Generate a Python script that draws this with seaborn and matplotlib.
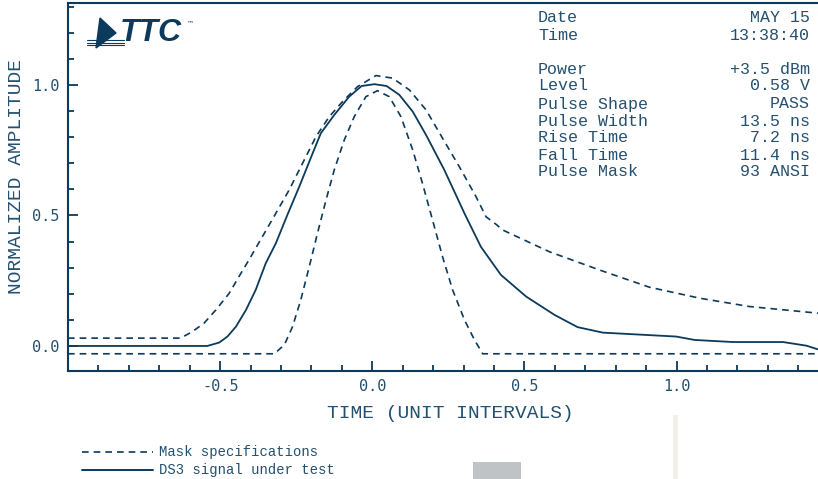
import pandas as pd
import matplotlib.pyplot as plt
import matplotlib.patches as mpatches
from matplotlib.lines import Line2D
from matplotlib.ticker import MultipleLocator
import seaborn as sns

# DS3 pulse: signal and ANSI mask
signal_t = [-1.0, -0.542, -0.503, -0.476, -0.448, -0.415, -0.383, -0.35, -0.317, -0.279,
            -0.240, -0.196, -0.169, -0.125, -0.076, -0.035, 0.007, 0.047, 0.089, 0.133,
            0.177, 0.237, 0.303, 0.357, 0.423, 0.506, 0.599, 0.675, 0.758, 0.999,
            1.059, 1.185, 1.35, 1.427, 1.47]
signal_y = [0.0, 0.0, 0.013, 0.036, 0.074, 0.138, 0.215, 0.317, 0.393, 0.502,
            0.610, 0.738, 0.815, 0.885, 0.955, 0.996, 1.003, 0.996, 0.962, 0.898,
            0.808, 0.674, 0.508, 0.380, 0.272, 0.189, 0.119, 0.072, 0.051, 0.036,
            0.023, 0.015, 0.015, 0.001, -0.015]

upper_t = [-1.0, -0.63, -0.591, -0.553, -0.514, -0.470, -0.438, -0.405, -0.361, -0.317,
           -0.273, -0.229, -0.185, -0.141, -0.098, -0.048, 0.012, 0.067, 0.122, 0.177,
           0.231, 0.286, 0.341, 0.374, 0.407, 0.429, 0.582, 0.747, 0.911, 1.076,
           1.24, 1.47]
upper_y = [0.03, 0.03, 0.055, 0.087, 0.138, 0.202, 0.266, 0.330, 0.419, 0.508,
           0.598, 0.700, 0.802, 0.879, 0.936, 0.994, 1.036, 1.026, 0.981, 0.904,
           0.796, 0.687, 0.572, 0.495, 0.466, 0.444, 0.361, 0.291, 0.225, 0.183,
           0.151, 0.125]

lower_t = [-1.0, -0.322, -0.289, -0.262, -0.235, -0.207, -0.180, -0.152, -0.125, -0.092,
           -0.059, -0.021, 0.017, 0.056, 0.094, 0.133, 0.165, 0.198, 0.231, 0.264,
           0.303, 0.336, 0.363, 1.47]
lower_y = [-0.03, -0.03, 0.004, 0.074, 0.176, 0.304, 0.432, 0.559, 0.674, 0.789,
           0.879, 0.955, 0.978, 0.955, 0.879, 0.751, 0.623, 0.483, 0.342, 0.215,
           0.100, 0.023, -0.03, -0.03]

x_ticks = [-0.5, 0.0, 0.5, 1.0]
y_ticks = [0.0, 0.5, 1.0]

info_labels = ['Date', 'Time', '', 'Power', 'Level', 'Pulse Shape', 'Pulse Width',
               'Rise Time', 'Fall Time', 'Pulse Mask']
info_values = ['MAY 15', '13:38:40', '', '+3.5 dBm', '0.58 V', 'PASS', '13.5 ns',
               '7.2 ns', '11.4 ns', '93 ANSI']

legend_labels = ['Mask specifications', 'DS3 signal under test']

LINE = '#0c3a5c'
TEXT = '#24506f'
MONO = 'Liberation Mono'
DASH = (0, (4, 3))

sns.set_style('white')
plt.rcParams['font.family'] = [MONO, 'DejaVu Sans']

W, H = 818, 479
fig = plt.figure(figsize=(W / 100, H / 100), dpi=100)


def fx(x):
    return x / W


def fy(y):
    return 1 - y / H


ax = fig.add_axes([fx(68), fy(371), fx(W) - fx(68), fy(3) - fy(371)])

signal = pd.DataFrame({'t': signal_t, 'amp': signal_y})
upper = pd.DataFrame({'t': upper_t, 'amp': upper_y})
lower = pd.DataFrame({'t': lower_t, 'amp': lower_y})

sns.lineplot(data=upper, x='t', y='amp', ax=ax, color=LINE, lw=1.2, linestyle=DASH,
             sort=False, estimator=None)
sns.lineplot(data=lower, x='t', y='amp', ax=ax, color=LINE, lw=1.2, linestyle=DASH,
             sort=False, estimator=None)
sns.lineplot(data=signal, x='t', y='amp', ax=ax, color=LINE, lw=1.3,
             sort=False, estimator=None)

ax.set_xlim(-1.0, 1.465)
ax.set_ylim(-0.096, 1.314)
ax.set_xticks(x_ticks)
ax.set_yticks(y_ticks)
ax.set_xticklabels([f'{v:.1f}' for v in x_ticks])
ax.set_yticklabels([f'{v:.1f}' for v in y_ticks])
ax.xaxis.set_minor_locator(MultipleLocator(0.1))
ax.yaxis.set_minor_locator(MultipleLocator(0.1))
ax.tick_params(which='both', direction='in', color=LINE, width=1.3,
               bottom=True, left=True, top=False, right=False)
ax.tick_params(which='major', length=7.5, pad=6, labelsize=11, labelcolor=TEXT)
ax.tick_params(which='minor', length=4.5)
for lab in ax.get_xticklabels() + ax.get_yticklabels():
    lab.set_family('DejaVu Sans Mono')

for side in ['left', 'bottom', 'top']:
    ax.spines[side].set_color(LINE)
    ax.spines[side].set_linewidth(1.5)
ax.spines['right'].set_visible(False)

ax.set_xlabel('TIME (UNIT INTERVALS)', fontsize=14, color=TEXT)
ax.set_ylabel('NORMALIZED AMPLITUDE', fontsize=14, color=TEXT)
ax.xaxis.set_label_coords((450 - 68) / 750, (371 - 414) / 368)
ax.xaxis.label.set_va('center')
ax.yaxis.set_label_coords((17 - 68) / 750, (371 - 176) / 368)
ax.yaxis.label.set_va('center')

# measurement readout
row_y = [18, 35, 52, 69, 86, 104, 121, 138, 155, 172]
for lab, val, y in zip(info_labels, info_values, row_y):
    fig.text(fx(538), fy(y), lab, fontsize=12, color=TEXT, va='center', ha='left')
    fig.text(fx(810), fy(y), val, fontsize=12, color=TEXT, va='center', ha='right')

# TTC logo
fig.add_artist(mpatches.Polygon([[fx(100), fy(18)], [fx(116), fy(33)], [fx(96), fy(48)]],
                                closed=True, transform=fig.transFigure, color=LINE))
for y in [40, 42.7, 45.3]:
    fig.add_artist(Line2D([fx(87), fx(124)], [fy(y), fy(y)], transform=fig.transFigure,
                          color=LINE, lw=0.8))
fig.text(fx(120), fy(33), 'TTC', fontsize=23, fontweight='bold', style='italic',
         family='Liberation Sans', color=LINE, va='center', ha='left')
fig.text(fx(187), fy(23), '™', fontsize=5, family='DejaVu Sans', color=LINE,
         va='center', ha='left')

# legend below the chart
for y, ls, lab in zip([452, 470], [DASH, '-'], legend_labels):
    fig.add_artist(Line2D([fx(82), fx(153)], [fy(y), fy(y)], transform=fig.transFigure,
                          color=LINE, lw=1.2 if ls == DASH else 1.4, linestyle=ls))
    fig.text(fx(159), fy(y), lab, fontsize=10, color=TEXT, va='center', ha='left')

# screen capture leftovers
fig.add_artist(mpatches.Rectangle((fx(473), fy(479)), fx(48), 17 / H,
                                  transform=fig.transFigure, color='#bfc3c6', lw=0))
fig.add_artist(mpatches.Rectangle((fx(673), fy(479)), fx(5), 64 / H,
                                  transform=fig.transFigure, color='#f3efe9', lw=0))

fig.savefig('out.png', dpi=100)
